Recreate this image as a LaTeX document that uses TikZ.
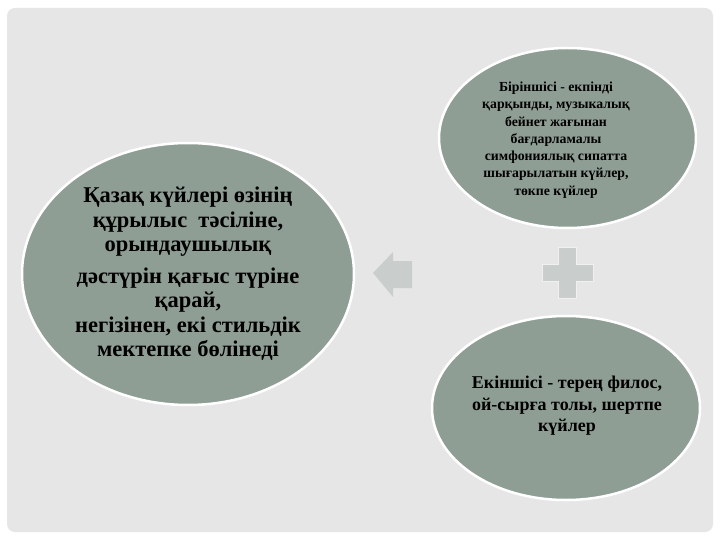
\documentclass[tikz,border=0pt]{standalone}
\usepackage{fontspec}
\setmainfont{Liberation Serif}
\usetikzlibrary{shapes.geometric}
\definecolor{panel}{HTML}{E6E6E6}
\definecolor{ell}{HTML}{8F9E94}
\definecolor{sym}{HTML}{C9CECC}
\begin{document}
\begin{tikzpicture}[x=1pt,y=-1pt,
  oval/.style={ellipse, fill=ell, draw=white, line width=2.5pt, inner sep=0pt},
  txt/.style={align=center, text=black}]
\useasboundingbox (0,0) rectangle (720,540);
\fill[white] (0,0) rectangle (720,540);
\fill[panel, rounded corners=8pt] (7,8) rectangle (713,532);
\node[oval, minimum width=332pt, minimum height=262pt] (main) at (188,274) {};
\node[oval, minimum width=257pt, minimum height=180pt] (first) at (567.5,138) {};
\node[oval, minimum width=268pt, minimum height=184pt] (second) at (566,408) {};
\node[txt, font={\bfseries\fontsize{22.5}{24.5}\selectfont}] (maintext) at (188,274)
  {Қазақ күйлері өзінің\\ құрылыс\ \ тәсіліне,\\ орындаушылық\\[7pt] дәстүрін қағыс түріне\\ қарай,\\ негізінен, екі стильдік\\ мектепке бөлінеді};
\node[txt, font={\bfseries\fontsize{13.8}{17.3}\selectfont}] (firsttext) at (556,140)
  {Біріншісі - екпінді\\ қарқынды, музыкалық\\ бейнет жағынан\\ бағдарламалы\\ симфониялық сипатта\\ шығарылатын күйлер,\\ төкпе күйлер};
\node[txt, font={\bfseries\fontsize{18}{21.5}\selectfont}] (secondtext) at (567,406)
  {Екіншісі - терең филос,\\ ой-сырға толы, шертпе\\ күйлер};
% arrow
\fill[sym] (373,273) -- (393,252) -- (393,261) -- (412,261) -- (412,288) -- (393,288) -- (393,297) -- cycle;
% plus
\fill[sym, draw=panel!60!white, line width=0.8pt] (558,247) -- (576,247) -- (576,264) -- (593,264) -- (593,281) -- (576,281) -- (576,298) -- (558,298) -- (558,281) -- (542,281) -- (542,264) -- (558,264) -- cycle;
\end{tikzpicture}
\end{document}
